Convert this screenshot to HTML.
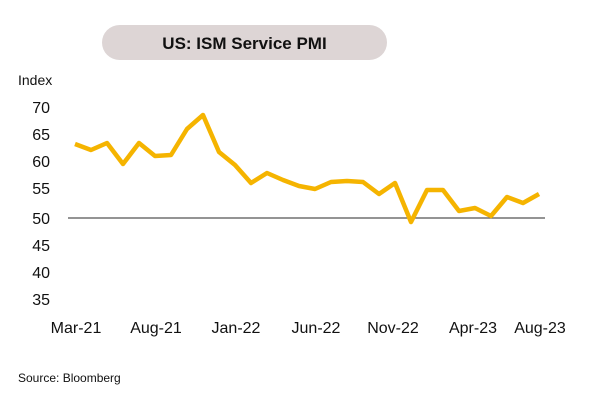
<!DOCTYPE html>
<html><head><meta charset="utf-8"><style>
body{margin:0;background:#fff;width:600px;height:410px;overflow:hidden;font-family:"Liberation Sans",sans-serif}
</style></head><body>
<svg width="600" height="410" xmlns="http://www.w3.org/2000/svg" font-family="Liberation Sans, sans-serif">
<rect x="102" y="25" width="285" height="35" rx="17.5" fill="#ddd5d5"/>
<text x="244.5" y="49" text-anchor="middle" font-size="17" font-weight="bold" fill="#111">US: ISM Service PMI</text>
<text x="18" y="85" font-size="14" fill="#111">Index</text>
<g font-size="16" fill="#111" text-anchor="end">
<text x="50" y="113">70</text><text x="50" y="140">65</text><text x="50" y="167">60</text><text x="50" y="194">55</text>
<text x="50" y="224">50</text><text x="50" y="251">45</text><text x="50" y="278">40</text><text x="50" y="305">35</text>
</g>
<line x1="68" y1="218" x2="545" y2="218" stroke="#555" stroke-width="1.2"/>
<polyline fill="none" stroke="#f5b400" stroke-width="4.5" stroke-linejoin="round" points="75,144 91,150 107,143 123,164 139,143 155,156 171,155 187,129 203,115 219,152 235,165 251,183 267,173 283,180 299,186 315,189 331,182 347,181 363,182 379,194 395,183 411,222 427,190 443,190 459,211 475,208 491,216 507,197 523,203 539,194"/>
<g font-size="16" fill="#111" text-anchor="middle">
<text x="76" y="333">Mar-21</text><text x="156" y="333">Aug-21</text><text x="236" y="333">Jan-22</text>
<text x="316" y="333">Jun-22</text><text x="393" y="333">Nov-22</text><text x="473" y="333">Apr-23</text><text x="540" y="333">Aug-23</text>
</g>
<text x="18" y="382" font-size="12" fill="#111">Source: Bloomberg</text>
</svg>
</body></html>
